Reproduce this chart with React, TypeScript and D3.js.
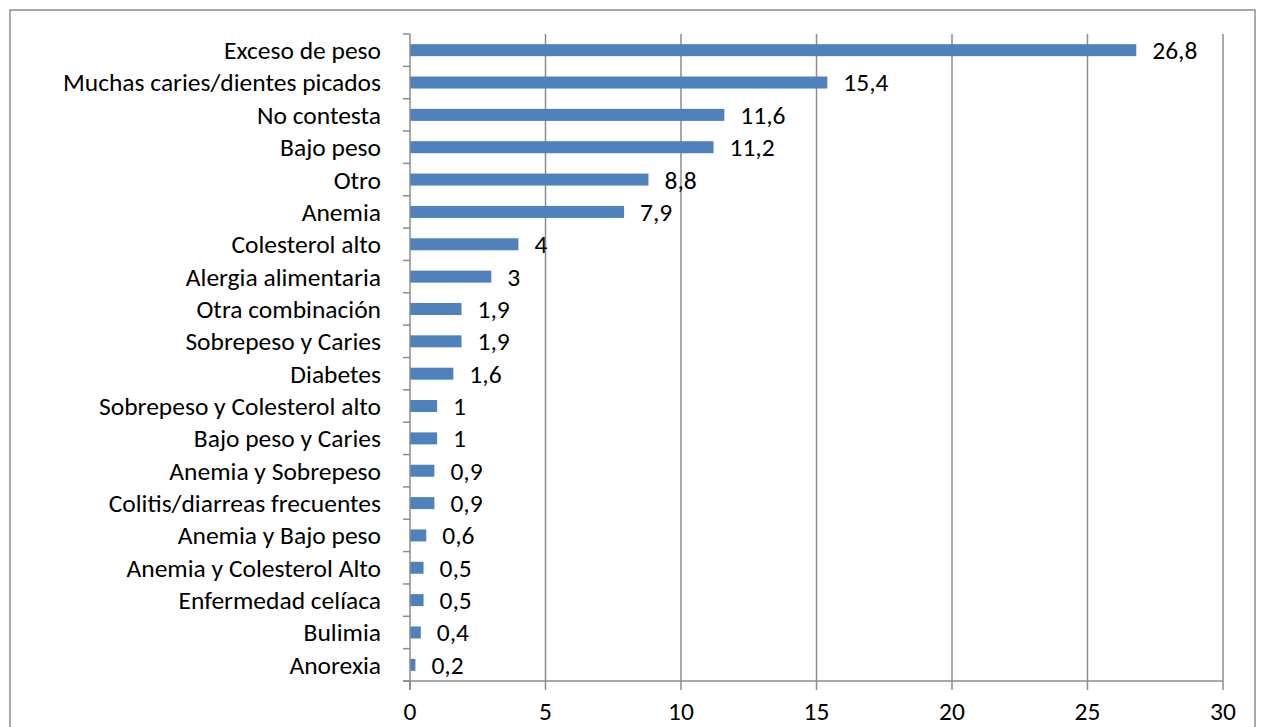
import * as d3 from 'd3';
import React, { useEffect, useRef } from 'react';

const categories = [
  'Exceso de peso',
  'Muchas caries/dientes picados',
  'No contesta',
  'Bajo peso',
  'Otro',
  'Anemia',
  'Colesterol alto',
  'Alergia alimentaria',
  'Otra combinación',
  'Sobrepeso y Caries',
  'Diabetes',
  'Sobrepeso y Colesterol alto',
  'Bajo peso y Caries',
  'Anemia y Sobrepeso',
  'Colitis/diarreas frecuentes',
  'Anemia y Bajo peso',
  'Anemia y Colesterol Alto',
  'Enfermedad celíaca',
  'Bulimia',
  'Anorexia'
];

const values = [
  26.8, 15.4, 11.6, 11.2, 8.8, 7.9, 4, 3, 1.9, 1.9, 1.6, 1, 1, 0.9, 0.9, 0.6,
  0.5, 0.5, 0.4, 0.2
];

const xTicks = [0, 5, 10, 15, 20, 25, 30];

const WIDTH = 1271;
const HEIGHT = 727;
const FONT = 'Carlito, Calibri, "Open Sans", sans-serif';
const FONT_SIZE = '25.5px';

export default function App() {
  const svgRef = useRef<SVGSVGElement | null>(null);

  useEffect(() => {
    const svg = d3.select(svgRef.current);
    svg.selectAll('*').remove();

    const margin = { top: 34, right: 48, bottom: 46, left: 410 };
    const plotW = WIDTH - margin.left - margin.right;
    const plotH = HEIGHT - margin.top - margin.bottom;

    const data = categories.map((c, i) => ({ category: c, value: values[i] }));

    const x = d3.scaleLinear().domain([0, 30]).range([0, plotW]);
    const y = d3.scaleBand().domain(categories).range([0, plotH]);
    const barH = 12;

    // bordo esterno del grafico
    svg
      .append('rect')
      .attr('x', 10)
      .attr('y', 10)
      .attr('width', WIDTH - 16 - 10)
      .attr('height', HEIGHT)
      .attr('fill', 'white')
      .attr('stroke', '#8c8c8c')
      .attr('stroke-width', 1.5);

    const g = svg
      .append('g')
      .attr('transform', `translate(${margin.left},${margin.top})`);

    // griglia verticale
    g.selectAll('.grid')
      .data(xTicks.filter((t) => t > 0))
      .enter()
      .append('line')
      .attr('x1', (d) => x(d))
      .attr('x2', (d) => x(d))
      .attr('y1', 0)
      .attr('y2', plotH)
      .attr('stroke', '#8c8c8c')
      .attr('stroke-width', 1.5);

    // barre
    g.selectAll('.bar')
      .data(data)
      .enter()
      .append('rect')
      .attr('x', 0)
      .attr('y', (d) => y(d.category)! + y.bandwidth() / 2 - barH / 2)
      .attr('width', (d) => x(d.value))
      .attr('height', barH)
      .attr('fill', '#4f81bd');

    // etichette dei valori
    g.selectAll('.val')
      .data(data)
      .enter()
      .append('text')
      .attr('x', (d) => x(d.value) + 16)
      .attr('y', (d) => y(d.category)! + y.bandwidth() / 2)
      .attr('dy', '0.35em')
      .style('font-family', FONT)
      .style('font-size', FONT_SIZE)
      .attr('fill', '#000')
      .text((d) => String(d.value).replace('.', ','));

    // asse y
    g.append('line')
      .attr('x1', 0)
      .attr('x2', 0)
      .attr('y1', 0)
      .attr('y2', plotH + 9)
      .attr('stroke', '#8c8c8c')
      .attr('stroke-width', 1.5);

    const yTickPos = d3.range(categories.length + 1).map((i) => i * y.step());
    g.selectAll('.ytick')
      .data(yTickPos)
      .enter()
      .append('line')
      .attr('x1', -7)
      .attr('x2', 0)
      .attr('y1', (d) => d)
      .attr('y2', (d) => d)
      .attr('stroke', '#8c8c8c')
      .attr('stroke-width', 1.5);

    // etichette delle categorie
    g.selectAll('.cat')
      .data(categories)
      .enter()
      .append('text')
      .attr('x', -29)
      .attr('y', (d) => y(d)! + y.bandwidth() / 2)
      .attr('dy', '0.35em')
      .attr('text-anchor', 'end')
      .style('font-family', FONT)
      .style('font-size', FONT_SIZE)
      .attr('fill', '#000')
      .text((d) => d);

    // asse x
    g.append('line')
      .attr('x1', -7)
      .attr('x2', plotW)
      .attr('y1', plotH)
      .attr('y2', plotH)
      .attr('stroke', '#8c8c8c')
      .attr('stroke-width', 1.5);

    g.selectAll('.xtick')
      .data(xTicks)
      .enter()
      .append('line')
      .attr('x1', (d) => x(d))
      .attr('x2', (d) => x(d))
      .attr('y1', plotH)
      .attr('y2', plotH + 9)
      .attr('stroke', '#8c8c8c')
      .attr('stroke-width', 1.5);

    g.selectAll('.xlabel')
      .data(xTicks)
      .enter()
      .append('text')
      .attr('x', (d) => x(d))
      .attr('y', plotH + 39)
      .attr('text-anchor', 'middle')
      .style('font-family', FONT)
      .style('font-size', FONT_SIZE)
      .attr('fill', '#000')
      .text((d) => d);
  }, []);

  return (
    <svg
      ref={svgRef}
      width={WIDTH}
      height={HEIGHT}
      style={{ position: 'absolute', left: 0, top: 0, background: 'white' }}
    />
  );
}
